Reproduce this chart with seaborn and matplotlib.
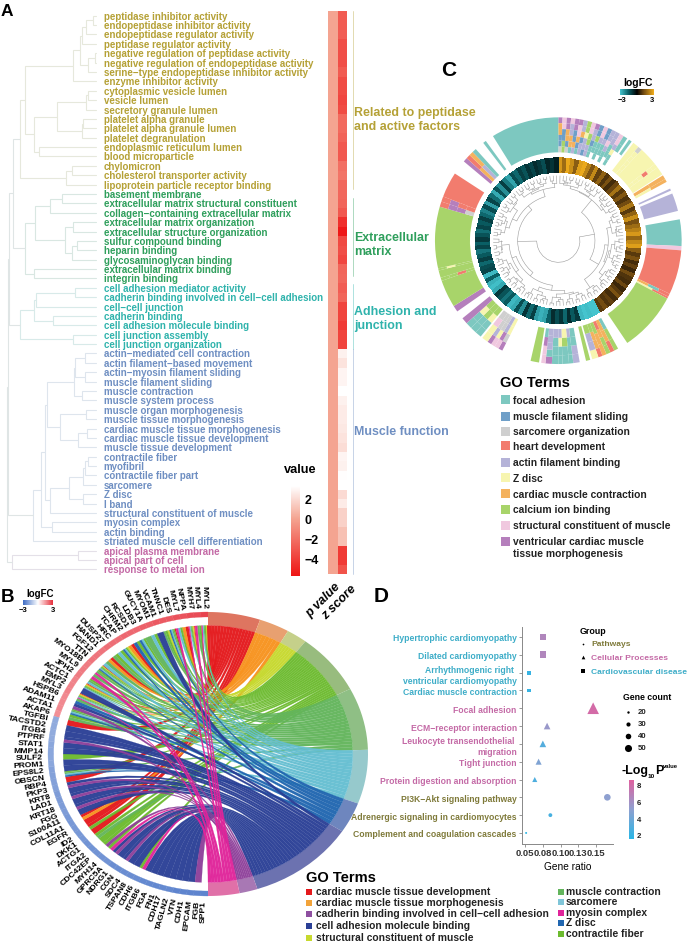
import numpy as np
import pandas as pd
import seaborn as sns
import matplotlib
matplotlib.use("Agg")
import matplotlib.pyplot as plt
from matplotlib.colors import LinearSegmentedColormap, Normalize
from matplotlib.cm import ScalarMappable
from matplotlib.path import Path
from matplotlib.patches import PathPatch, Rectangle

sns.set_theme(style="white")
plt.rcParams["font.family"] = ["Liberation Sans", "DejaVu Sans"]
plt.rcParams["font.weight"] = "bold"

W, H = 687, 945

# Panel A ---------------------------------------------------------------------
go_labels = [
    "peptidase inhibitor activity", "endopeptidase inhibitor activity", "endopeptidase regulator activity",
    "peptidase regulator activity", "negative regulation of peptidase activity",
    "negative regulation of endopeptidase activity", "serine−type endopeptidase inhibitor activity",
    "enzyme inhibitor activity", "cytoplasmic vesicle lumen", "vesicle lumen", "secretory granule lumen",
    "platelet alpha granule", "platelet alpha granule lumen", "platelet degranulation",
    "endoplasmic reticulum lumen", "blood microparticle", "chylomicron", "cholesterol transporter activity",
    "lipoprotein particle receptor binding",
    "basement membrane", "extracellular matrix structural constituent", "collagen−containing extracellular matrix",
    "extracellular matrix organization", "extracellular structure organization", "sulfur compound binding",
    "heparin binding", "glycosaminoglycan binding", "extracellular matrix binding", "integrin binding",
    "cell adhesion mediator activity", "cadherin binding involved in cell−cell adhesion", "cell−cell junction",
    "cadherin binding", "cell adhesion molecule binding", "cell junction assembly", "cell junction organization",
    "actin−mediated cell contraction", "actin filament−based movement", "actin−myosin filament sliding",
    "muscle filament sliding", "muscle contraction", "muscle system process", "muscle organ morphogenesis",
    "muscle tissue morphogenesis", "cardiac muscle tissue morphogenesis", "cardiac muscle tissue development",
    "muscle tissue development", "contractile fiber", "myofibril", "contractile fiber part", "sarcomere",
    "Z disc", "I band", "structural constituent of muscle", "myosin complex", "actin binding",
    "striated muscle cell differentiation",
    "apical plasma membrane", "apical part of cell", "response to metal ion",
]
group_sizes = [19, 10, 7, 21, 3]
group_colors = ["#B5A136", "#2F9F5C", "#2FB3AC", "#6F8FC2", "#C46AA6"]
branch_colors = ["#E6E8DC", "#D9E7E2", "#D8EAE9", "#DEE5ED", "#E4E0E8"]
group_titles = ["Related to peptidase\nand active factors", "Extracellular\nmatrix", "Adhesion and\njunction", "Muscle function"]

p_value = [0.0] * 60
z_score = [-2.9, -2.9, -2.8, -3.4, -3.4, -3.4, -2.9, -3.5, -3.5, -3.7, -3.5, -2.3, -2.3, -2.6, -3.0, -3.0, -2.1, -1.9, -2.4,
           -2.4, -2.5, -3.0, -4.6, -5.5, -3.6, -3.4, -3.7, -2.5, -2.4,
           -2.8, -2.5, -3.8, -3.8, -4.2, -3.8, -3.8,
           2.7, 2.2, 2.8, 2.8, 3.2, 2.7, 2.5, 2.5, 2.4, 2.2, 2.0, 2.8, 2.7, 3.1, 3.2, 1.9, 2.5, 1.6, 1.6, 1.0, 1.0,
           -4.2, -4.2, -3.2]
# height at which neighbouring rows join in the tree, read along the rows
row_joins = [280, 258, 247, 240, 284, 265, 218, 75, 265, 258, 172, 248, 245, 103, 118, 60, 215, 197, 40,
             185, 150, 105, 220, 195, 230, 215, 75, 103, 28,
             225, 107, 103, 160, 60, 218, 24,
             255, 224, 255, 222, 245, 142, 258, 180, 262, 235, 135, 265, 255, 250, 208, 250, 150, 122, 155, 98, 20,
             235, 37]

# Panel B ---------------------------------------------------------------------
genes = ["MYL2", "MYL4", "MYH7", "NPPA", "MYL7", "DES", "TNNC1", "VCAM1", "MYOM1", "GUCY1A", "LDB3", "RCSD1", "CHRM2",
         "TCAP", "HRC", "DUSP27", "HAND1", "FGF12", "TTN", "MYO18B", "MYL9", "JPH2", "ACTC1", "EMP2", "MYL3", "HSPB6",
         "ADAM11", "ACTA1", "AKAP6", "TGFBI", "TACSTD2", "ITGB4", "PTPRF", "STAT1", "MMP14", "SULF2", "PROM1", "EPS8L2",
         "OBSCN", "RBP4", "PKP3", "KRT8", "LAD1", "KRT18", "FGG", "S100A11", "COL11A1", "EGFR", "ID2", "DKK1", "ACTG1",
         "ITGA2", "CDC42EP", "MYH14", "GPRC5A", "NDRG1", "CGN", "SDC4", "TSPAN8", "CDH6", "ITGB6", "FGA", "FN1", "CDH17",
         "TAGLN2", "VTN", "CDH1", "EPCAM", "FGB", "SPP1"]
gene_terms = ["RLFMSP", "FMP", "ROLFMSP", "RO", "FSP", "RFMSZ", "LFM", "D", "FS", "M", "FSZ", "FZ", "RO",
              "LFSZ", "FS", "FM", "RO", "MS", "RLFMSZ", "FMP", "MP", "FMS", "ROLFMS", "D", "ROLFMSP", "MZ",
              "CD", "FMSZ", "FM", "R", "D", "D", "CD", "D", "D", "F", "D", "D",
              "FMSZ", "R", "CD", "D", "CD", "D", "CD", "D", "RO", "R", "RF", "R", "FM",
              "F", "CF", "FP", "CD", "D", "CD", "D", "D", "FP", "D", "D", "D", "D",
              "D", "D", "D", "D", "C", ""]
gene_logfc = [2.7, 2.6, 2.6, 2.5, 2.5, 2.4, 2.4, 2.4, 2.3, 2.3, 2.2, 2.2, 2.2, 2.1, 2.1, 2.1, 2.0, 2.0, 2.0, 1.9, 1.9,
              1.9, 1.8, 1.8, 1.8, 1.7, 1.7, 1.7, 1.6, -1.7, -1.7, -1.7, -1.7, -1.8, -1.8, -1.8, -1.8, -1.9, -1.9, -1.9,
              -1.9, -2.0, -2.0, -2.0, -2.0, -2.1, -2.1, -2.1, -2.1, -2.1, -2.2, -2.2, -2.2, -2.2, -2.2, -2.3, -2.3, -2.3,
              -2.3, -2.3, -2.4, -2.4, -2.4, -2.4, -2.4, -2.5, -2.5, -2.5, -2.5, -2.5]
term_codes = ["R", "O", "L", "F", "M", "S", "Z", "D", "C", "P"]
term_spans = [19, 11, 7.5, 25.2, 25.6, 22.1, 12.6, 39, 6.6, 11.4]
term_colors = ["#E4191C", "#F7931E", "#C7D92E", "#6CBB2E", "#63B55C", "#65BFD2", "#2066B0", "#2A3F96", "#8E3F9A", "#E0249A"]
term_rings = ["#DE7560", "#E8A070", "#C5D08A", "#98BC7E", "#8FBF85", "#96C9CC", "#6E86BE", "#6C72B0", "#A878B4", "#E070A8"]
chord_legend = [("cardiac muscle tissue development", "#E4191C"), ("cardiac muscle tissue morphogenesis", "#F2A33A"),
                ("cadherin binding involved in cell−cell adhesion", "#8E4FA0"), ("cell adhesion molecule binding", "#2A3F96"),
                ("structural constituent of muscle", "#C7D92E")]
chord_legend2 = [("muscle contraction", "#63B55C"), ("sarcomere", "#7FC5D8"), ("myosin complex", "#E0249A"),
                 ("Z disc", "#2066B0"), ("contractile fiber", "#6CBB2E")]

# Panel C ---------------------------------------------------------------------
circ_terms = {"a": "#7DC8C0", "m": "#6F9FC8", "o": "#CFCFCF", "h": "#F27C6E", "b": "#B5B3D8", "z": "#F7F5B0",
              "c": "#F4B25E", "i": "#A8D46A", "s": "#F0C8DF", "v": "#B57FBC", ".": "#FFFFFF"}
circ_legend = [("focal adhesion", "a"), ("muscle filament sliding", "m"), ("sarcomere organization", "o"),
               ("heart development", "h"), ("actin filament binding", "b"), ("Z disc", "z"),
               ("cardiac muscle contraction", "c"), ("calcium ion binding", "i"),
               ("structural constituent of muscle", "s"), ("ventricular cardiac muscle\ntissue morphogenesis", "v")]
# each sector: start angle, span, then the terms stacked from the outside in
sector_start = [0, 2, 4, 6, 8, 10, 12, 14, 16, 18, 20, 22, 24, 26, 28, 30, 32, 35, 37.5, 40.5, 42.5, 51.5, 53.5, 58, 60,
                65, 67.5, 80, 92.5, 94.5, 115.5, 117, 118, 151, 153, 155, 157, 159, 161, 165, 170, 173, 175, 178, 180, 183, 186,
                189, 207, 209, 211, 213, 215, 219, 222, 225, 228, 235, 238, 251, 252.5, 256, 257, 286, 288.5, 291,
                310, 312, 314, 316, 322.5, 328]
sector_span = [2, 2, 2, 2, 2, 2, 2, 2, 2, 2, 2, 2, 2, 2, 2, 2, 2, 1.5, 3, 2, 9, 2, 4, 2, 1.5,
               1, 8.5, 12.5, 2, 21, 1.5, 1, 28, 2, 2, 2, 2, 2, 3, 2, 3, 2, 3, 2, 3, 3, 2,
               4, 2, 2, 2, 2, 3, 3, 3, 3, 3, 3, 13, 1.5, 3.5, 1, 29, 2.5, 2.5, 12,
               2, 2, 2, 2, 1.5, 32]
sector_stack = ["vccmmo", "ssmmii", "vvccmo", "sbbcca", "vvmmcb", "vsscma", "bbcmbb", "iizbbm", "ssiibb", "vbbmaa", "mmiaa.", "ssbaaa", "mmbaa.",
                "bbsbaa", "bbaa.", "ssbzaa", "aa..", "a.", "z", "ozzzzz", "z", "zzhzzz", "z", "cc", "cz", "b", "b", "a", "s", "h", "hac",
                "hz", "i", "iia", "hcc", "iich", "cci", "hcci", "zbbi", "i", "bbaa", "aaab", "aaiz", "aazb", "aaab", "vabbb", "ssva",
                "i", "vozz", "svbb", "szoo", "vboo", "zzso", "aazi", "aaii", "aazi", "v", "v", "i", "iihi", "i", "izii", "i", "hvvo", "hvhh", "h",
                "v", "hc", "cb", "a", "a", "a"]
leaf_logfc = [2.6, 1.8, 2.9, 2.4, 1.5, 2.7, 2.9, 2.2,
              1.4, 2.3, 1.0, 1.6, 0.8, 1.3, 0.7, 1.1, 1.9, 0.9, 1.4, 0.8,
              1.2, 2.0, 0.9, 1.6, 2.4, 1.3, 1.8, 2.2, 2.6, 1.7, 2.3, 2.7,
              1.5, 0.9, 1.3, 0.7, 1.0, 0.6, 1.2, 0.8, 0.7, 1.1, 0.6, 0.9, 1.3, 0.7, 1.0, 0.8, 1.2, 0.9,
              -3.0, -3.0, -2.9, -3.0, -2.8,
              -0.9, -1.4, -0.7, -1.6, -0.8, -1.2, -0.7, -1.5, -2.5, -2.7,
              -2.4, -1.0, -1.6, -0.8, -2.2, -1.2, -2.6, -2.8, -1.4, -1.8,
              -1.3, -0.9, -2.6, -2.9, -2.7, -1.5, -2.8, -1.1,
              -1.2, -1.6, -1.0, -1.4, -1.8, -1.1, -1.5, -0.9, -1.3, -1.7, -1.1, -1.4, -1.0, -1.6, -2.0, -1.2, -2.4, -1.1, -1.7,
              -2.6, -1.3, -2.2, -1.0, -1.9, -2.5, -1.2, -1.6,
              -1.0, -1.3, -0.8, -1.1, -0.7, -0.9, -1.2, -0.6, -0.8, -0.5]
leaf_joins = [172, 180, 176, 185, 168, 182, 178, 160, 186, 174, 181, 170, 187, 158, 178, 184, 172, 180, 165, 176, 110,
              180, 172, 186, 163, 178, 184, 175, 150, 182, 170, 186, 176, 160, 183, 172, 178, 188, 155, 180, 174, 186, 168,
              178, 184, 140, 176, 186, 170, 182, 65,
              180, 172, 185, 165, 178, 186, 160, 176, 182, 170, 188, 150, 179, 184, 172, 186, 162, 178, 183, 135,
              176, 186, 168, 182, 172, 187, 158, 180, 174, 185, 166, 178, 188, 148, 181, 172, 186, 170, 178, 122,
              184, 174, 163, 186, 178, 170, 182, 152, 176, 187, 168, 180, 172, 186, 138, 178, 184, 166, 180, 174, 186, 170,
              182, 176, 188, 160, 180, 172]

# Panel D ---------------------------------------------------------------------
pathways = ["Hypertrophic cardiomyopathy", "Dilated cardiomyopathy", "Arrhythmogenic right \nventricular cardiomyopathy",
            "Cardiac muscle contraction", "Focal adhesion", "ECM−receptor interaction",
            "Leukocyte transendothelial \nmigration", "Tight junction", "Protein digestion and absorption",
            "PI3K−Akt signaling pathway", "Adrenergic signaling in cardiomyocytes", "Complement and coagulation cascades"]
pathway_group = ["Cardiovascular disease"] * 4 + ["Cellular Processes"] * 5 + ["Pathways"] * 3
gene_ratio = [0.075, 0.075, 0.055, 0.055, 0.146, 0.081, 0.075, 0.069, 0.0636, 0.166, 0.0856, 0.0514]
gene_count = [27, 27, 19, 19, 52, 27, 27, 25, 22, 27, 19, 16]
log_p = [6.5, 6.5, 2.0, 2.0, 8.0, 5.5, 3.0, 4.5, 2.8, 5.0, 2.5, 1.5]
group_color = {"Pathways": "#7F7A3A", "Cellular Processes": "#C46AA6", "Cardiovascular disease": "#3DADC8"}
group_marker = {"Cardiovascular disease": "s", "Cellular Processes": "^", "Pathways": "o"}
count_levels = [20, 30, 40, 50]
count_dots = [3, 9, 16, 26]


def add_ax(x0, y0, x1, y1, **kw):
    return fig.add_axes([x0 / W, 1 - y1 / H, (x1 - x0) / W, (y1 - y0) / H], **kw)


def walk_tree(joins, lo, hi, leaf_h, segs):
    # split at the join nearest the root, collect (pos1, pos2, h, h1, h2)
    if lo == hi:
        return lo + 0.5, leaf_h
    k = lo + int(np.argmin(joins[lo:hi]))
    p1, h1 = walk_tree(joins, lo, k, leaf_h, segs)
    p2, h2 = walk_tree(joins, k + 1, hi, leaf_h, segs)
    segs.append((p1, p2, joins[k], h1, h2))
    return (p1 + p2) / 2, joins[k]


fig = plt.figure(figsize=(W / 100, H / 100), dpi=100, facecolor="white")

bg = add_ax(0, 0, W, H)
bg.set_xlim(0, W)
bg.set_ylim(H, 0)
bg.axis("off")
bg.set_zorder(5)
bg.patch.set_alpha(0)

for lab, x, y, fs in [("A", 7, 11, 12.5), ("B", 7, 597, 13.5), ("C", 449, 71, 15), ("D", 381, 597, 15)]:
    bg.text(x, y, lab, fontsize=fs, ha="center", va="center", color="black")

# A: tree and labels
tree_ax = add_ax(0, 12, 328, 575)
tree_ax.set_xlim(0, 984)
tree_ax.set_ylim(60, 0)
tree_ax.axis("off")
row_group = np.repeat(np.arange(5), group_sizes)
segs_a = []
walk_tree(row_joins, 0, 59, 288, segs_a)
for p1, p2, h, h1, h2 in segs_a:
    col = branch_colors[row_group[int(p1)]] if row_group[int(p1)] == row_group[int(p2)] else "#DFE5E5"
    tree_ax.plot([h1, h, h, h2], [p1, p1, p2, p2], color=col, lw=0.8, solid_joinstyle="miter")
for i, lab in enumerate(go_labels):
    tree_ax.text(311, i + 0.5, lab, color=group_colors[row_group[i]], fontsize=7.05, va="center", ha="left")

heat_cmap = LinearSegmentedColormap.from_list("hm", [(0, "#EE1414"), (0.64, "#F4A491"), (1, "#FFFFFF")])
heat_df = pd.DataFrame({"p value": p_value, "z score": z_score})
heat_ax = add_ax(328, 12, 347, 575)
sns.heatmap(heat_df, ax=heat_ax, cmap=heat_cmap, vmin=-5.7, vmax=3.2, cbar=False, yticklabels=False, xticklabels=False)
for lab, x, y in zip(heat_df.columns, [334, 350], [581, 583]):
    bg.text(x, y, lab, rotation=45, ha="right", va="top", rotation_mode="anchor",
            fontsize=9, style="italic", color="black")

cb_ax = add_ax(291, 487, 300, 577)
cb = fig.colorbar(ScalarMappable(Normalize(-5.7, 3.2), heat_cmap), cax=cb_ax)
cb.set_ticks([2, 0, -2, -4])
cb.set_ticklabels(["2", "0", "−2", "−4"], fontsize=9, color="black")
cb.ax.tick_params(length=0, pad=3)
cb.outline.set_visible(False)
bg.text(284, 470, "value", fontsize=9.2, va="center", ha="left", color="black")

bracket_y = [(12, 190), (199, 277), (285, 350), (350, 575)]
title_y = [120, 245, 319, 432]
for (y0, y1), ty, t, c in zip(bracket_y, title_y, group_titles, group_colors):
    bg.plot([352.5, 352.5], [y0, y1], color=c, lw=0.6, alpha=0.45)
    bg.text(354, ty, t, color=c, fontsize=8.9, va="center", ha="left", linespacing=1.25)

# B: chord diagram, drawn on a unit circle that the axes stretch
chord = add_ax(208 - 1.3 * 160, 755 - 1.3 * 142, 208 + 1.3 * 160, 755 + 1.3 * 142)
chord.set_xlim(-1.3, 1.3)
chord.set_ylim(-1.3, 1.3)
chord.axis("off")
chord.patch.set_alpha(0)


def arc_xy(a1, a2, r):
    t = np.radians(np.linspace(a1, a2, 12))
    return np.column_stack([r * np.sin(t), r * np.cos(t)])


gene_cmap = LinearSegmentedColormap.from_list("gc", ["#3E6CC4", "#FFFFFF", "#E6303C"])
gene_w = 180 / len(genes)
gene_links = {c: [] for c in term_codes}
for i, terms in enumerate(gene_terms):
    hi = 360 - i * gene_w
    lo = hi - gene_w
    ring = np.vstack([arc_xy(lo, hi, 1.0), arc_xy(hi, lo, 0.965)])
    chord.fill(ring[:, 0], ring[:, 1], color=gene_cmap(Normalize(-3, 3)(gene_logfc[i])), lw=0.2)
    lab_a = np.radians(lo + gene_w / 2)
    rot = np.degrees(np.arctan2(-np.cos(lab_a) * 142, -np.sin(lab_a) * 160))
    chord.text(1.03 * np.sin(lab_a), 1.03 * np.cos(lab_a), genes[i], rotation=rot, rotation_mode="anchor",
               ha="right", va="center", fontsize=6.1, color="black")
    ordered = [c for c in term_codes if c in terms]
    for j, c in enumerate(ordered):
        step = gene_w / len(ordered)
        gene_links[c].append((hi - (j + 1) * step, hi - j * step))

start = 0
for c, span, col, ring_col in zip(term_codes, term_spans, term_colors, term_rings):
    ring = np.vstack([arc_xy(start, start + span, 1.0), arc_xy(start + span, start, 0.905)])
    chord.fill(ring[:, 0], ring[:, 1], color=ring_col, lw=0)
    links = gene_links[c]
    step = span / len(links)
    for n, (g1, g2) in enumerate(links):
        t1 = start + n * step
        gene_pts = arc_xy(g1, g2, 0.905)
        term_pts = arc_xy(t1, t1 + step, 0.905)
        verts = list(gene_pts) + [(0, 0), term_pts[0]] + list(term_pts[1:]) + [(0, 0), gene_pts[0]]
        codes = ([Path.MOVETO] + [Path.LINETO] * 11 + [Path.CURVE3, Path.CURVE3]
                 + [Path.LINETO] * 11 + [Path.CURVE3, Path.CURVE3])
        chord.add_patch(PathPatch(Path(verts, codes), facecolor=col, edgecolor=col, lw=0.15, alpha=0.96))
    start += span

b_bar = add_ax(23, 601, 53, 606)
b_cb = fig.colorbar(ScalarMappable(Normalize(-3, 3), gene_cmap), cax=b_bar, orientation="horizontal")
b_cb.set_ticks([-3, 3])
b_cb.set_ticklabels(["−3", "3"], fontsize=5.5, color="black")
b_cb.ax.tick_params(length=0, pad=1)
b_cb.outline.set_visible(False)
bg.text(40, 594, "logFC", fontsize=7, ha="center", va="center", color="black")

bg.text(306, 878, "GO Terms", fontsize=10.5, va="center", ha="left", color="black")
for k, (t, c) in enumerate(chord_legend):
    y = [892, 903, 914, 926, 938][k]
    bg.add_patch(Rectangle((306, y - 2.5), 6, 6, color=c, lw=0))
    bg.text(316, y, t, fontsize=7.35, va="center", ha="left", color="#222222")
for k, (t, c) in enumerate(chord_legend2):
    y = [892, 902, 913, 923, 934][k]
    bg.add_patch(Rectangle((558, y - 2.5), 6, 6, color=c, lw=0))
    bg.text(566, y, t, fontsize=7.35, va="center", ha="left", color="#222222")

# C: circular tree with its two rings
circ = add_ax(558.3 - 125, 241.7 - 125, 558.3 + 125, 241.7 + 125, projection="polar")
circ.set_theta_zero_location("N")
circ.set_theta_direction(-1)
circ.set_ylim(0, 375)
circ.axis("off")
circ.patch.set_alpha(0)

for s, span, stack in zip(sector_start, sector_span, sector_stack):
    part = 105 / len(stack)
    for k, code in enumerate(stack):
        circ.bar(np.radians(s + span / 2), part, width=np.radians(span), bottom=370 - (k + 1) * part,
                 color=circ_terms[code], lw=0, align="center")

fc_cmap = LinearSegmentedColormap.from_list("fc", [(0, "#45C4CE"), (0.25, "#0A5F65"), (0.5, "#000000"), (0.68, "#6A4510"), (1, "#F2AE1C")])
leaf_step = 360 / len(leaf_logfc)
theta_edges = np.radians(np.arange(len(leaf_logfc) + 1) * leaf_step)
circ.pcolormesh(theta_edges, [207, 247], np.array(leaf_logfc)[None, :], cmap=fc_cmap, vmin=-3, vmax=3,
                shading="flat", edgecolors="face", linewidth=0.1)

segs_c = []
walk_tree(leaf_joins, 0, len(leaf_logfc) - 1, 195, segs_c)
for p1, p2, h, h1, h2 in segs_c:
    th = np.radians(np.linspace(p1, p2, 14) * leaf_step)
    circ.plot(th, np.full(14, h), color="#9A9A9A", lw=0.4)
    circ.plot([np.radians(p1 * leaf_step)] * 2, [h, h1], color="#9A9A9A", lw=0.4)
    circ.plot([np.radians(p2 * leaf_step)] * 2, [h, h2], color="#9A9A9A", lw=0.4)
circ.set_ylim(0, 375)

c_bar = add_ax(620, 90, 654, 96)
c_cb = fig.colorbar(ScalarMappable(Normalize(-3, 3), fc_cmap), cax=c_bar, orientation="horizontal")
c_cb.set_ticks([-2.7, 2.7])
c_cb.set_ticklabels(["−3", "3"], fontsize=5.5, color="black")
c_cb.ax.tick_params(length=0, pad=1)
c_cb.outline.set_visible(False)
bg.text(638, 83, "logFC", fontsize=7.5, ha="center", va="center", color="black")

bg.text(500, 383, "GO Terms", fontsize=10.5, va="center", ha="left", color="black")
for (t, code), y in zip(circ_legend, [400.7, 417, 432, 446.7, 463, 478.7, 494.7, 510, 526, 548]):
    by = 542.3 if code == "v" else y
    bg.add_patch(Rectangle((501, by - 4.5), 9, 9, color=circ_terms[code], lw=0))
    bg.text(513, y, t, fontsize=7.4, va="center", ha="left", color="#222222", linespacing=1.25)

# D: pathway dot plot
dot_cmap = LinearSegmentedColormap.from_list("dp", ["#29B6E6", "#8FA0D0", "#E0609F"])
dot_df = pd.DataFrame({"pathway": pathways, "group": pathway_group, "ratio": gene_ratio,
                       "count": gene_count, "logp": log_p})
dot_ax = add_ax(522.3, 628, 613, 845)
sns.scatterplot(data=dot_df, x="ratio", y="pathway", hue="logp", hue_norm=(1.5, 8.6), palette=dot_cmap,
                size="count", sizes=(2, 70), size_norm=(16, 52), style="group", markers=group_marker,
                linewidth=0, legend=False, ax=dot_ax)
dot_ax.set_xlim(0.046, 0.174)
dot_ax.set_ylim(11.62, -0.56)
dot_ax.set_xticks([0.05, 0.075, 0.10, 0.125, 0.15])
dot_ax.set_xticklabels(["0.05", "0.08", "0.10", "0.13", "0.15"], fontsize=6.8, color="#333333")
dot_ax.tick_params(axis="y", labelsize=6.2, length=2, width=0.6, color="#888888", pad=2, left=True)
dot_ax.tick_params(axis="x", length=2, width=0.6, color="#888888", pad=1, bottom=True)
for tick, grp in zip(dot_ax.get_yticklabels(), pathway_group):
    tick.set_color(group_color[grp])
    tick.set_linespacing(1.3)
dot_ax.set_xlabel("Gene ratio", fontsize=7.3, color="black", labelpad=3)
dot_ax.set_ylabel("")
sns.despine(ax=dot_ax)
for sp in ["left", "bottom"]:
    dot_ax.spines[sp].set_color("#888888")
    dot_ax.spines[sp].set_linewidth(0.7)
dot_ax.patch.set_alpha(0)

bg.text(580, 632, "Group", fontsize=6.4, va="center", ha="left", color="black")
for g, y, s in zip(["Pathways", "Cellular Processes", "Cardiovascular disease"], [644.7, 658, 672], [1.5, 7, 6]):
    bg.scatter([583], [y], s=s, marker=group_marker[g] if g != "Pathways" else "o", color="black", lw=0)
    bg.text(591, y, g, fontsize=6.1, va="center", ha="left", color=group_color[g])
bg.text(623, 698, "Gene count", fontsize=6.3, va="center", ha="left", color="black")
for lev, dot, y in zip(count_levels, count_dots, [713, 725, 737, 749]):
    bg.scatter([628], [y], s=dot, color="black", lw=0)
    bg.text(638, y, str(lev), fontsize=5.6, va="center", ha="left", color="#222222")
bg.text(622, 771, "-Log", fontsize=9, va="center", ha="left", color="black")
bg.text(648, 777, "10", fontsize=4.6, va="center", ha="left", color="black")
bg.text(655, 771, "P", fontsize=9, va="center", ha="left", color="black")
bg.text(663, 767, "value", fontsize=4.2, va="center", ha="left", color="black")
d_bar = add_ax(628.7, 780.7, 634, 840)
d_cb = fig.colorbar(ScalarMappable(Normalize(1.5, 8.6), dot_cmap), cax=d_bar)
d_cb.set_ticks([2, 4, 6, 8])
d_cb.set_ticklabels(["2", "4", "6", "8"], fontsize=5.6, color="#222222")
d_cb.ax.tick_params(length=0, pad=2)
d_cb.outline.set_visible(False)

fig.savefig("out.png", dpi=100)
